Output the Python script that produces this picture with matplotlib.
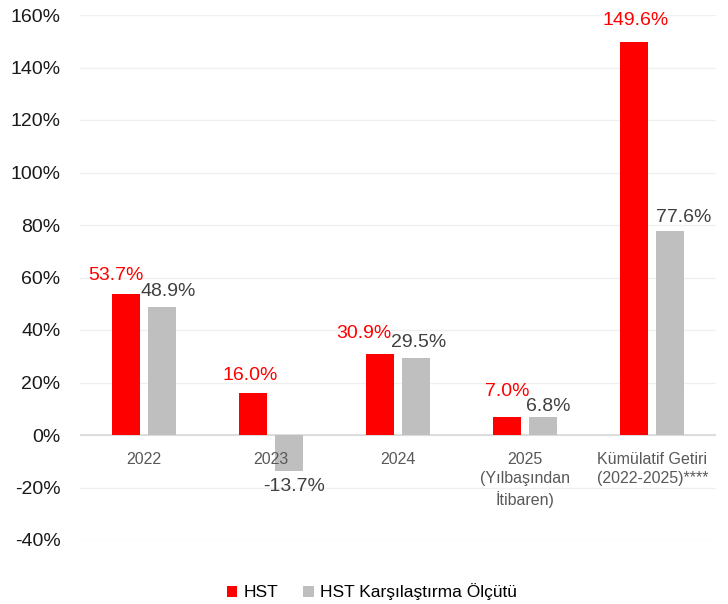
import numpy as np
import matplotlib.pyplot as plt

plt.rcParams['font.family'] = ['Liberation Sans', 'DejaVu Sans']

categories = ['2022', '2023', '2024', '2025\n(Yılbaşından\nİtibaren)',
              'Kümülatif Getiri\n(2022-2025)****']
hst = [53.7, 16.0, 30.9, 7.0, 149.6]
bench = [48.9, -13.7, 29.5, 6.8, 77.6]
yticks = [-40, -20, 0, 20, 40, 60, 80, 100, 120, 140, 160]

RED = '#ff0000'
GREY = '#bfbfbf'

# label nudges in pixels (the original moves labels so neighbours don't collide)
red_dx = [-10, -3, -16, 0, 1]
red_gap = [13, 12, 15, 20, 16]
grey_dx = [7, 5, 3, 5, 13]
grey_gap = [10, 10, 10, 5, 8]
PT = 0.72  # px -> pt at dpi 100

fig = plt.figure(figsize=(7.28, 6.04), dpi=100)
ax = fig.add_axes([80/728, 1-540/604, 636/728, 525/604])

x = np.arange(len(categories))
w = 0.22
off = 0.142
ax.bar(x - off, hst, w, color=RED, label='HST', zorder=3)
ax.bar(x + off, bench, w, color=GREY, label='HST Karşılaştırma Ölçütü', zorder=3)

for i in range(len(x)):
    v = hst[i]
    dy = (red_gap[i] - 3) * PT
    ax.annotate(f'{v:.1f}%', (x[i] - off, v), xytext=(red_dx[i] * PT, dy if v >= 0 else -dy),
                textcoords='offset points', ha='center',
                va='bottom' if v >= 0 else 'top', color=RED, fontsize=14)
    v = bench[i]
    dy = (grey_gap[i] - 3) * PT
    ax.annotate(f'{v:.1f}%', (x[i] + off, v), xytext=(grey_dx[i] * PT, dy if v >= 0 else -dy),
                textcoords='offset points', ha='center',
                va='bottom' if v >= 0 else 'top', color='#404040', fontsize=14)
    ax.annotate(categories[i], (x[i], 0), xytext=(0, -12), textcoords='offset points',
                ha='center', va='top', color='#595959', fontsize=11.5, linespacing=1.35)

ax.set_xlim(-0.5, len(categories) - 0.5)
ax.set_ylim(-40, 160)
ax.set_yticks(yticks)
ax.set_yticklabels([f'{t}%' for t in yticks])
ax.set_xticks([])
ax.tick_params(axis='y', length=0, pad=14, labelsize=14, labelcolor='#1a1a1a')
ax.grid(axis='y', color='#f0f0f0', lw=1, zorder=0)
ax.axhline(0, color='#d9d9d9', lw=1.2, zorder=2)
for s in ax.spines.values():
    s.set_visible(False)

fig.legend(loc='center', bbox_to_anchor=(372/728, 1-592/604), ncol=2, frameon=False,
           fontsize=12.5, handlelength=0.6, handleheight=0.6, handletextpad=0.4,
           columnspacing=1.4)

fig.savefig('out.png', dpi=100)
